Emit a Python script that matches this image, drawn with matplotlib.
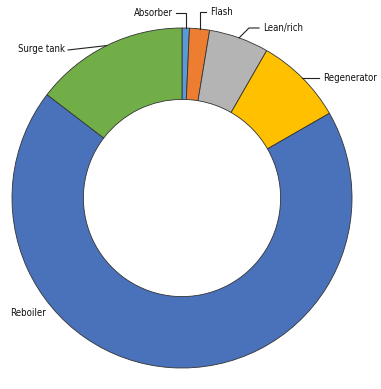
import numpy as np
import matplotlib.pyplot as plt

# share of each component (percent)
labels = ["Absorber", "Flash", "Lean/rich", "Regenerator", "Reboiler", "Surge tank"]
values = [0.7, 1.9, 5.7, 8.4, 68.7, 14.6]
colors = ["#5B9BD5", "#ED7D31", "#B4B4B4", "#FFC000", "#4A72BB", "#72AE48"]

plt.rcParams['font.family'] = ['DejaVu Sans']

fig = plt.figure(figsize=(3.81, 3.89), dpi=100)
# pie centre ~ (182, 198) px, radius ~170 px
ax = fig.add_axes([12 / 381, (389 - 368) / 389, 340 / 381, 340 / 389])
wedges, _ = ax.pie(values, colors=colors, startangle=90, counterclock=False,
                   radius=1.0, wedgeprops=dict(width=0.42, edgecolor="#333333", linewidth=0.6))
ax.set_xlim(-1, 1)
ax.set_ylim(-1, 1)
ax.set_aspect("equal")
ax.axis("off")

def px(x, y):
    return (x - 182) / 170.0, (198 - y) / 170.0

def edge(i):
    w = wedges[i]
    a = np.deg2rad((w.theta1 + w.theta2) / 2)
    return np.cos(a), np.sin(a)

lc = dict(color="#222222", lw=0.8)
tk = dict(fontsize=6.9, fontstretch="condensed", color="#111111")

# Absorber
ex, ey = edge(0)
x1, y1 = px(176, 13)
ax.plot([x1, ex, ex], [y1, y1, ey], clip_on=False, **lc)
ax.text(px(173, 13)[0], y1, labels[0], ha="right", va="center", **tk)

# Flash
ex, ey = edge(1)
x1, y1 = px(206, 12)
ax.plot([x1, ex, ex], [y1, y1, ey], clip_on=False, **lc)
ax.text(px(210, 12)[0], y1, labels[1], ha="left", va="center", **tk)

# Lean/rich
ex, ey = edge(2)
x1, y1 = px(259, 28)
x2, _ = px(249, 28)
ax.plot([x1, x2, ex], [y1, y1, ey], clip_on=False, **lc)
ax.text(px(263, 28)[0], y1, labels[2], ha="left", va="center", **tk)

# Regenerator
ex, ey = edge(3)
x1, _ = px(319, 75)
ax.plot([x1, ex], [ey, ey], clip_on=False, **lc)
ax.text(px(323, 75)[0], ey, labels[3], ha="left", va="center", **tk)

# Surge tank
ex, ey = edge(5)
x1, y1 = px(68, 50)
ax.plot([x1, ex], [y1, ey], clip_on=False, **lc)
ax.text(px(65, 49)[0], px(65, 49)[1], labels[5], ha="right", va="center", **tk)

# Reboiler (no leader)
rx, ry = px(10, 313)
ax.text(rx, ry, labels[4], ha="left", va="center", **tk)

fig.savefig("out.png", dpi=100)
